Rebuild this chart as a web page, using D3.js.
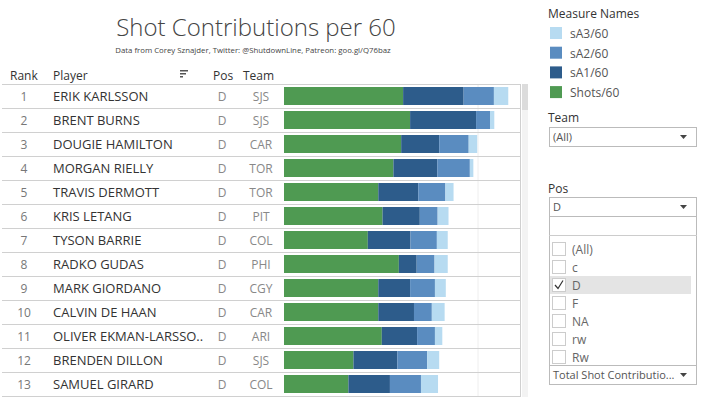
<!DOCTYPE html>
<html>
<head>
<meta charset="utf-8">
<script src="https://cdn.jsdelivr.net/npm/d3@7"></script>
<style>
  body { margin: 0; background: #fff; }
  svg text { font-family: "Open Sans", "Noto Sans", sans-serif; }
</style>
</head>
<body>
<div id="chart"></div>
<script>
// table data (per 60 values)
const ranks = [1, 2, 3, 4, 5, 6, 7, 8, 9, 10, 11, 12, 13];
const players = ["ERIK KARLSSON", "BRENT BURNS", "DOUGIE HAMILTON", "MORGAN RIELLY", "TRAVIS DERMOTT",
  "KRIS LETANG", "TYSON BARRIE", "RADKO GUDAS", "MARK GIORDANO", "CALVIN DE HAAN",
  "OLIVER EKMAN-LARSSO..", "BRENDEN DILLON", "SAMUEL GIRARD"];
const positions = ["D", "D", "D", "D", "D", "D", "D", "D", "D", "D", "D", "D", "D"];
const teams = ["SJS", "SJS", "CAR", "TOR", "TOR", "PIT", "COL", "PHI", "CGY", "CAR", "ARI", "SJS", "COL"];
const shots60 = [3.07, 3.25, 3.02, 2.82, 2.43, 2.54, 2.16, 2.96, 2.43, 2.43, 2.52, 1.79, 1.66];
const sA1_60 = [1.56, 1.70, 0.98, 1.13, 1.03, 0.96, 1.10, 0.46, 0.82, 0.92, 0.91, 1.13, 1.07];
const sA2_60 = [0.78, 0.36, 0.76, 0.84, 0.70, 0.46, 0.68, 0.46, 0.64, 0.46, 0.46, 0.77, 0.80];
const sA3_60 = [0.37, 0.11, 0.22, 0.09, 0.21, 0.28, 0.28, 0.34, 0.28, 0.33, 0.19, 0.31, 0.44];

const measures = ["Shots/60", "sA1/60", "sA2/60", "sA3/60"];
const legendOrder = ["sA3/60", "sA2/60", "sA1/60", "Shots/60"];
const posOptions = ["(All)", "c", "D", "F", "NA", "rw", "Rw"];

const W = 715, H = 397;
const svg = d3.select("#chart").append("svg").attr("width", W).attr("height", H);

const colors = d3.scaleOrdinal()
  .domain(measures)
  .range(["#4f9a52", "#2d5c8b", "#5a8cc0", "#b7dbf1"]);

const rows = ranks.map((r, i) => ({
  rank: r, player: players[i], pos: positions[i], team: teams[i],
  "Shots/60": shots60[i], "sA1/60": sA1_60[i], "sA2/60": sA2_60[i], "sA3/60": sA3_60[i]
}));

// title
svg.append("text").attr("x", 256).attr("y", 36).attr("text-anchor", "middle")
  .attr("font-size", 24).attr("font-weight", 300).attr("fill", "#444")
  .text("Shot Contributions per 60");
svg.append("text").attr("x", 253).attr("y", 53).attr("text-anchor", "middle")
  .attr("font-size", 7.8).attr("fill", "#444")
  .text("Data from Corey Sznajder, Twitter: @ShutdownLine, Patreon: goo.gl/Q76baz");

// scales
const x = d3.scaleLinear().domain([0, 5]).range([284, 478]);
const y = d3.scaleBand().domain(players).range([84, 84 + 24 * players.length])
  .paddingInner(0.25).paddingOuter(0.125);
const step = y.step();

// header
const hdr = svg.append("g").attr("font-size", 12).attr("fill", "#333");
hdr.append("text").attr("x", 10).attr("y", 80).text("Rank");
hdr.append("text").attr("x", 53).attr("y", 80).text("Player");
hdr.append("text").attr("x", 213).attr("y", 80).text("Pos");
hdr.append("text").attr("x", 243).attr("y", 80).text("Team");
// sort icon
[[180, 8], [180, 6], [180, 3]].forEach((d, i) => {
  svg.append("rect").attr("x", d[0]).attr("y", 70 + i * 3).attr("width", d[1]).attr("height", 1.5).attr("fill", "#555");
});

// grid lines
svg.append("g").selectAll("line").data(x.ticks(1).filter(t => t > 0)).join("line")
  .attr("x1", d => x(d)).attr("x2", d => x(d))
  .attr("y1", 84).attr("y2", H)
  .attr("stroke", "#eeeeee");

// row separators
svg.append("g").selectAll("line").data(d3.range(players.length + 1)).join("line")
  .attr("x1", 2).attr("x2", 520)
  .attr("y1", i => 84.5 + i * step).attr("y2", i => 84.5 + i * step)
  .attr("stroke", "#d0d0d0");

// right pane edge + scrollbar
svg.append("line").attr("x1", 520.5).attr("x2", 520.5).attr("y1", 84).attr("y2", H).attr("stroke", "#d0d0d0");
svg.append("rect").attr("x", 522).attr("y", 84).attr("width", 6).attr("height", H - 84).attr("fill", "#f3f3f3");
svg.append("rect").attr("x", 522).attr("y", 84).attr("width", 6).attr("height", 26).attr("fill", "#dcdcdc");

// table text
const tbl = svg.append("g").attr("font-size", 12);
tbl.selectAll(".rk").data(rows).join("text")
  .attr("x", 24).attr("y", d => y(d.player) + y.bandwidth() / 2 + 4.5)
  .attr("text-anchor", "middle").attr("fill", "#777").text(d => d.rank);
tbl.selectAll(".pl").data(rows).join("text")
  .attr("x", 53).attr("y", d => y(d.player) + y.bandwidth() / 2 + 4.5)
  .attr("fill", "#333").attr("font-size", 13).text(d => d.player);
tbl.selectAll(".ps").data(rows).join("text")
  .attr("x", 222).attr("y", d => y(d.player) + y.bandwidth() / 2 + 4.5)
  .attr("text-anchor", "middle").attr("fill", "#888").text(d => d.pos);
tbl.selectAll(".tm").data(rows).join("text")
  .attr("x", 261).attr("y", d => y(d.player) + y.bandwidth() / 2 + 4.5)
  .attr("text-anchor", "middle").attr("fill", "#888").text(d => d.team);

// stacked bars
const stacked = d3.stack().keys(measures)(rows);
svg.append("g").selectAll("g").data(stacked).join("g")
  .attr("fill", s => colors(s.key))
  .selectAll("rect").data(s => s).join("rect")
  .attr("x", d => x(d[0]))
  .attr("y", d => y(d.data.player))
  .attr("width", d => x(d[1]) - x(d[0]))
  .attr("height", y.bandwidth());

// legend
const lg = svg.append("g").attr("font-size", 12);
lg.append("text").attr("x", 548).attr("y", 18).attr("fill", "#333").text("Measure Names");
legendOrder.forEach((k, i) => {
  lg.append("rect").attr("x", 550).attr("y", 27 + i * 19.7).attr("width", 12).attr("height", 12).attr("fill", colors(k));
  lg.append("text").attr("x", 570).attr("y", 38 + i * 19.7).attr("fill", "#555").text(k);
});

// filter widgets
function dropdown(g, yTop, label) {
  g.append("rect").attr("x", 549.5).attr("y", yTop + 0.5).attr("width", 147).attr("height", 19)
    .attr("fill", "#fff").attr("stroke", "#bbb");
  g.append("text").attr("x", 553).attr("y", yTop + 14).attr("font-size", 11).attr("fill", "#555").text(label);
  g.append("path").attr("d", `M680,${yTop + 8}h7l-3.5,4z`).attr("fill", "#444");
}
const flt = svg.append("g");
flt.append("text").attr("x", 548).attr("y", 122).attr("font-size", 12).attr("fill", "#333").text("Team");
dropdown(flt, 127, "(All)");
flt.append("text").attr("x", 548).attr("y", 193).attr("font-size", 12).attr("fill", "#333").text("Pos");

// open list
flt.append("rect").attr("x", 549.5).attr("y", 216.5).attr("width", 147).attr("height", 149)
  .attr("fill", "#fff").attr("stroke", "#bbb");
flt.append("line").attr("x1", 549).attr("x2", 697).attr("y1", 235.5).attr("y2", 235.5).attr("stroke", "#ccc");
posOptions.forEach((p, i) => {
  const cy = 249 + i * 18;
  if (p === "D") flt.append("rect").attr("x", 550).attr("y", cy - 9).attr("width", 141).attr("height", 18).attr("fill", "#e4e4e4");
  flt.append("rect").attr("x", 552.5).attr("y", cy - 6.5).attr("width", 13).attr("height", 13)
    .attr("fill", "#fff").attr("stroke", "#ccc");
  if (p === "D") flt.append("path").attr("d", `M555,${cy}l3,3.5l5,-8`).attr("fill", "none").attr("stroke", "#333").attr("stroke-width", 1.2);
  flt.append("text").attr("x", 572).attr("y", cy + 4.5).attr("font-size", 12).attr("fill", "#666").text(p);
});
dropdown(flt, 197, "D");
dropdown(flt, 365, "Total Shot Contributio...");
</script>
</body>
</html>
